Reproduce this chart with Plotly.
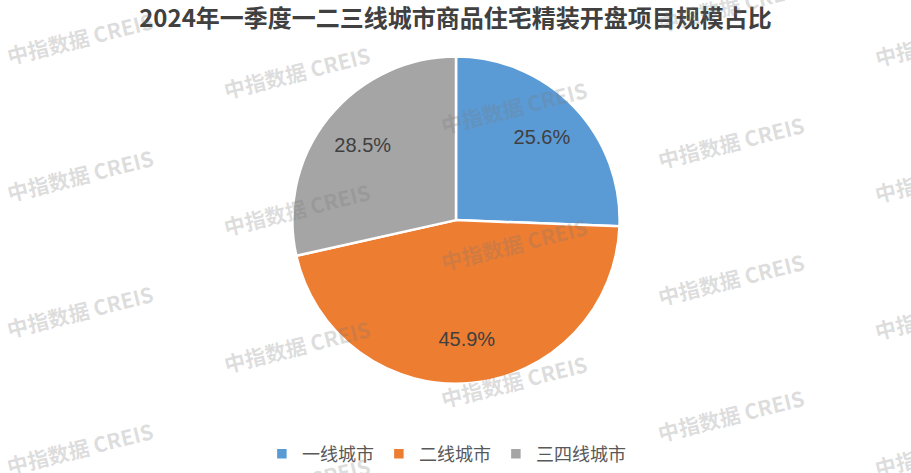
import plotly.graph_objects as go

# Data
categories = ["一线城市", "二线城市", "三四线城市"]
shares = [25.6, 45.9, 28.5]
colors = ["#5B9BD5", "#ED7D31", "#A5A5A5"]
title_text = "2024年一季度一二三线城市商品住宅精装开盘项目规模占比"
watermark_text = "中指数据 CREIS"

W, H = 911, 473
cx, cy, r = 456, 222, 165
dom = dict(x=[(cx - r) / W, (cx + r) / W], y=[(H - cy - r) / H, (H - cy + r) / H])

fig = go.Figure()
# filled slices
fig.add_trace(go.Pie(
    labels=categories,
    values=shares,
    sort=False,
    direction="clockwise",
    rotation=0,
    marker=dict(colors=colors, line=dict(color="white", width=2.5)),
    textinfo="none",
    hoverinfo="label+percent",
    domain=dom,
))
# transparent ring carrying the percentage labels (placed further out like the original)
fig.add_trace(go.Pie(
    labels=categories,
    values=shares,
    sort=False,
    direction="clockwise",
    rotation=0,
    hole=0.46,
    marker=dict(colors=["rgba(0,0,0,0)"] * 3, line=dict(width=0)),
    texttemplate="%{value:.1f}%",
    textposition="inside",
    insidetextorientation="horizontal",
    textfont=dict(family="Liberation Sans, Arial", size=20, color="#404040"),
    hoverinfo="skip",
    showlegend=False,
    domain=dom,
))

# Watermark grid
annotations = []
for col in range(5):
    for row in range(-1, 4):
        x = 80 + 217 * col
        y = 38 + 35 * col + 138 * row
        if y < -30 or y > H + 40:
            continue
        annotations.append(dict(
            x=x / W, y=1 - y / H, xref="paper", yref="paper",
            text=watermark_text, showarrow=False, textangle=-14,
            font=dict(family="Noto Sans CJK SC", size=21, color="rgba(120,120,120,0.25)", weight="bold"),
            xanchor="center", yanchor="middle",
        ))

fig.update_layout(
    width=W, height=H,
    margin=dict(l=0, r=0, t=0, b=0),
    paper_bgcolor="white",
    plot_bgcolor="white",
    title=dict(
        text=title_text, x=0.5, xanchor="center", y=1 - 19 / H, yanchor="middle",
        yref="container",
        font=dict(family="Noto Sans CJK SC", size=24, color="#404040", weight="bold"),
    ),
    showlegend=True,
    legend=dict(
        orientation="h", x=0.49, xanchor="center", y=15 / H, yanchor="middle",
        font=dict(family="Noto Sans CJK SC", size=18, color="#595959"),
        traceorder="normal", itemwidth=30,
    ),
    annotations=annotations,
)

fig.write_html("out.html", config={"displayModeBar": False},
               post_script="document.body.style.margin='0';")
